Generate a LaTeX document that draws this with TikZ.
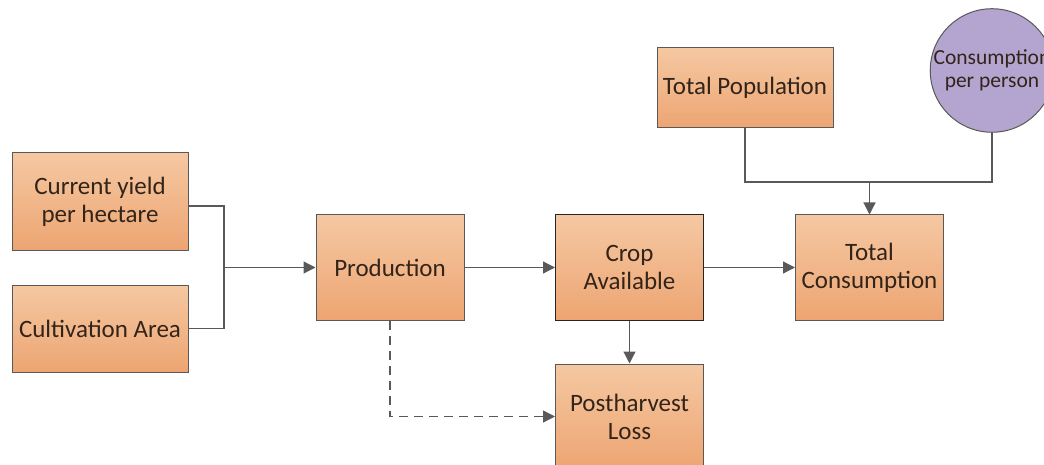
\documentclass[tikz,border=0pt]{standalone}
\usepackage{fontspec}
\setmainfont{Carlito}
\usetikzlibrary{arrows.meta,calc}
\definecolor{boxtop}{HTML}{F5C8A2}
\definecolor{boxbot}{HTML}{EDA572}
\definecolor{edge}{HTML}{595959}
\definecolor{ink}{HTML}{33241A}
\definecolor{lilac}{HTML}{B3A5CF}
\tikzset{
  stage/.style={draw=edge, line width=1pt, top color=boxtop, bottom color=boxbot,
    minimum width=#1, text=ink, align=center,
    font=\fontsize{25}{28}\selectfont, inner sep=0pt},
  stage/.default=148pt,
  link/.style={draw=edge, line width=1.2pt},
  flow/.style={link, -{Triangle[length=12pt,width=12pt]}},
}
\begin{document}
\begin{tikzpicture}[x=1pt,y=-1pt]
\useasboundingbox (0,0) rectangle (1044,465);
\clip (0,0) rectangle (1044,465);
% input boxes
\node[stage=176pt, minimum height=97pt] (yield) at (100,201.5) {Current yield\\per hectare};
\node[stage=176pt, minimum height=87pt] (area) at (100,328.5) {Cultivation Area};
% main chain
\node[stage, minimum height=105pt] (prod) at (390,267.5) {Production};
\node[stage, minimum height=105pt, draw=black!85] (crop) at (629.5,267.5) {Crop\\Available};
\node[stage, minimum height=105pt] (loss) at (629.5,416.5) {Postharvest\\Loss};
\node[stage, minimum height=105pt] (cons) at (869.5,267.5) {Total\\Consumption};
% demand side
\node[stage=176pt, minimum height=80pt] (pop) at (745,88) {Total Population};
\node[circle, draw=edge, line width=1pt, fill=lilac, minimum size=115pt, inner sep=0pt,
  text=ink, align=center, font=\fontsize{21.5}{23}\selectfont] (pp) at (992,70.5) {Consumption\\per person};
% merge points
\coordinate (j1) at (224,267.5);
\coordinate (j2) at (869.5,182);
% connectors
\draw[link] (yield.east |- 0,206) -| (j1);
\draw[link] (area.east) -| (j1);
\draw[flow] (j1) -- (prod.west);
\draw[flow] (prod) -- (crop);
\draw[flow] (crop) -- (cons);
\draw[flow] (crop) -- (loss);
\draw[flow, dash pattern=on 9pt off 6pt] (prod.south) |- (loss.west);
\draw[link] (pop.south) |- (j2);
\draw[link] (pp.south) |- (j2);
\draw[flow] (j2) -- (cons.north);
\end{tikzpicture}
\end{document}
